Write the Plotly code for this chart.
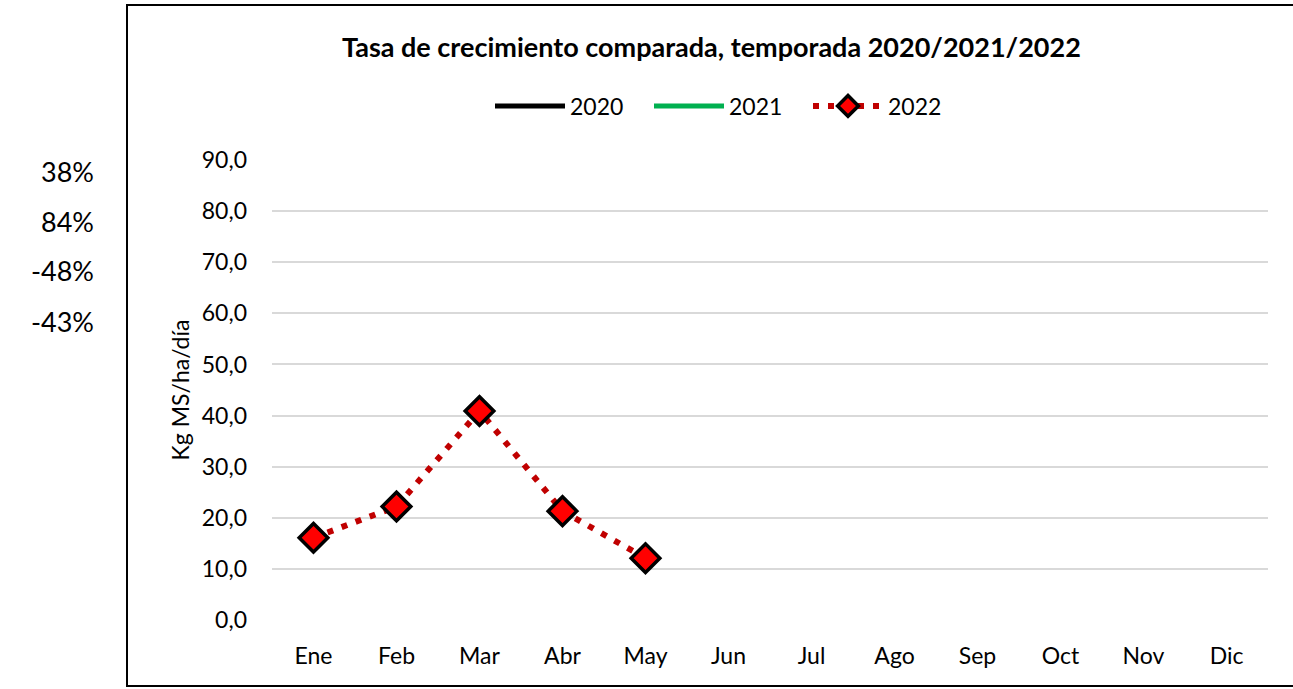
import plotly.graph_objects as go

months = ["Ene", "Feb", "Mar", "Abr", "May", "Jun", "Jul", "Ago", "Sep", "Oct", "Nov", "Dic"]
series_2020 = [None] * 12
series_2021 = [None] * 12
series_2022 = [16.1, 22.2, 40.9, 21.3, 12.1, None, None, None, None, None, None, None]
pct_labels = ["38%", "84%", "-48%", "-43%"]
y_ticks = [0, 10, 20, 30, 40, 50, 60, 70, 80, 90]
y_tick_text = ["0,0", "10,0", "20,0", "30,0", "40,0", "50,0", "60,0", "70,0", "80,0", "90,0"]

FONT = "Lato"
W, H = 1293, 689
L, R, T, B = 272, 25, 160, 69
pw, ph = W - L - R, H - T - B

def px_x(x):
    return (x - L) / pw

def px_y(y):
    return (H - B - y) / ph

fig = go.Figure()
fig.add_trace(go.Scatter(x=months, y=series_2020, name="2020", mode="lines",
                         line=dict(color="black", width=5)))
fig.add_trace(go.Scatter(x=months, y=series_2021, name="2021", mode="lines",
                         line=dict(color="#00B050", width=5)))
fig.add_trace(go.Scatter(x=months, y=series_2022, name="2022", mode="lines+markers",
                         line=dict(color="#C00000", width=6, dash="6px,9px"),
                         marker=dict(symbol="diamond", size=22, color="#FF0000",
                                     line=dict(color="black", width=3.5))))

fig.update_layout(
    width=W, height=H,
    margin=dict(l=L, r=R, t=T, b=B),
    paper_bgcolor="white", plot_bgcolor="white",
    font=dict(family=FONT, size=23, color="black"),
    showlegend=True,
    legend=dict(orientation="h", x=px_x(490), xanchor="left", y=px_y(106), yanchor="middle",
                font=dict(size=23, family=FONT), itemwidth=70, entrywidth=74,
                entrywidthmode="pixels", bgcolor="rgba(0,0,0,0)"),
    xaxis=dict(type="category", categoryorder="array", categoryarray=months,
               range=[-0.5, 11.5], showgrid=False, showline=False, ticks="",
               tickfont=dict(size=23), ticklabelstandoff=20),
    yaxis=dict(range=[0, 90], tickvals=y_ticks, ticktext=y_tick_text,
               showgrid=True, gridcolor="#D9D9D9", gridwidth=1.5, zeroline=False,
               showline=False, ticks="", tickfont=dict(size=23), ticklabelstandoff=24,
               title=dict(text="Kg MS/ha/día", font=dict(size=23), standoff=5)),
)

fig.add_annotation(text="<b>Tasa de crecimiento comparada, temporada 2020/2021/2022</b>",
                   xref="paper", yref="paper", x=px_x(711), y=px_y(47),
                   xanchor="center", yanchor="middle", showarrow=False,
                   font=dict(size=27, family=FONT))

for lab, yy in zip(pct_labels, [172, 221, 270, 321]):
    fig.add_annotation(text=lab, xref="paper", yref="paper", x=px_x(96), y=px_y(yy),
                       xanchor="right", yanchor="middle", showarrow=False,
                       font=dict(size=27, family=FONT))

fig.add_shape(type="rect", xref="paper", yref="paper",
              x0=px_x(127), x1=px_x(1300), y0=px_y(686), y1=px_y(5),
              line=dict(color="black", width=2), fillcolor="rgba(0,0,0,0)", layer="below")

fig.write_html("out.html", config={"displayModeBar": False},
               post_script="document.body.style.margin='0';document.documentElement.style.margin='0';")
